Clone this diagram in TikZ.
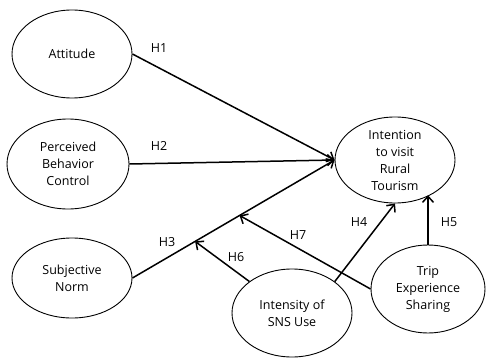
\documentclass[tikz,border=0pt]{standalone}
\usepackage{fontspec}
\setmainfont{Open Sans}
\usetikzlibrary{shapes.geometric}
\usetikzlibrary{arrows.meta}
\usetikzlibrary{calc}

\begin{document}
\begin{tikzpicture}[x=1pt,y=-1pt,
  every node/.style={font=\fontsize{12.5}{17}\selectfont},
  construct/.style={ellipse,draw,line width=0.9pt,inner sep=0pt,
    minimum width=120pt,minimum height=88pt,align=center},
  hyp/.style={line width=1.5pt,-{Straight Barb[length=6pt,width=11pt]}},
  lbl/.style={inner sep=1pt}]
\useasboundingbox (0,0) rectangle (486,358);

\node[construct] (att) at (72,54) {Attitude};
\node[construct,minimum width=122pt,minimum height=90pt] (pbc) at (68,164) {Perceived\\Behavior\\Control};
\node[construct,minimum height=86pt] (int) at (395,160) {Intention\\to visit\\Rural\\Tourism};
\node[construct,minimum height=80pt] (sub) at (72,278) {Subjective\\Norm};
\node[construct] (isu) at (292,313) {Intensity of\\SNS Use};
\node[construct,minimum width=114pt] (trip) at (428,289) {Trip\\Experience\\Sharing};

% moderation points on the H3 path
\coordinate (m6) at ($(sub.east)!0.31!(int.west)$);
\coordinate (m7) at ($(sub.east)!0.53!(int.west)$);

\draw[hyp] (att.east) -- (int.west);
\draw[hyp] (pbc.east) -- (int.west);
\draw[hyp] (sub.east) -- (int.west);
\draw[hyp] (isu.north east) -- (int.south);
\draw[hyp] (trip.north) -- (trip.north |- int.-45);
\draw[hyp] (isu) -- (m6);
\draw[hyp] (trip.west) -- (m7);

\node[lbl] (h1) at (159,48) {H1};
\node[lbl] (h2) at (159,146) {H2};
\node[lbl] (h3) at (167,242) {H3};
\node[lbl] (h4) at (359,222) {H4};
\node[lbl] (h5) at (449,222) {H5};
\node[lbl] (h6) at (236,257) {H6};
\node[lbl] (h7) at (298,235) {H7};
\end{tikzpicture}
\end{document}
